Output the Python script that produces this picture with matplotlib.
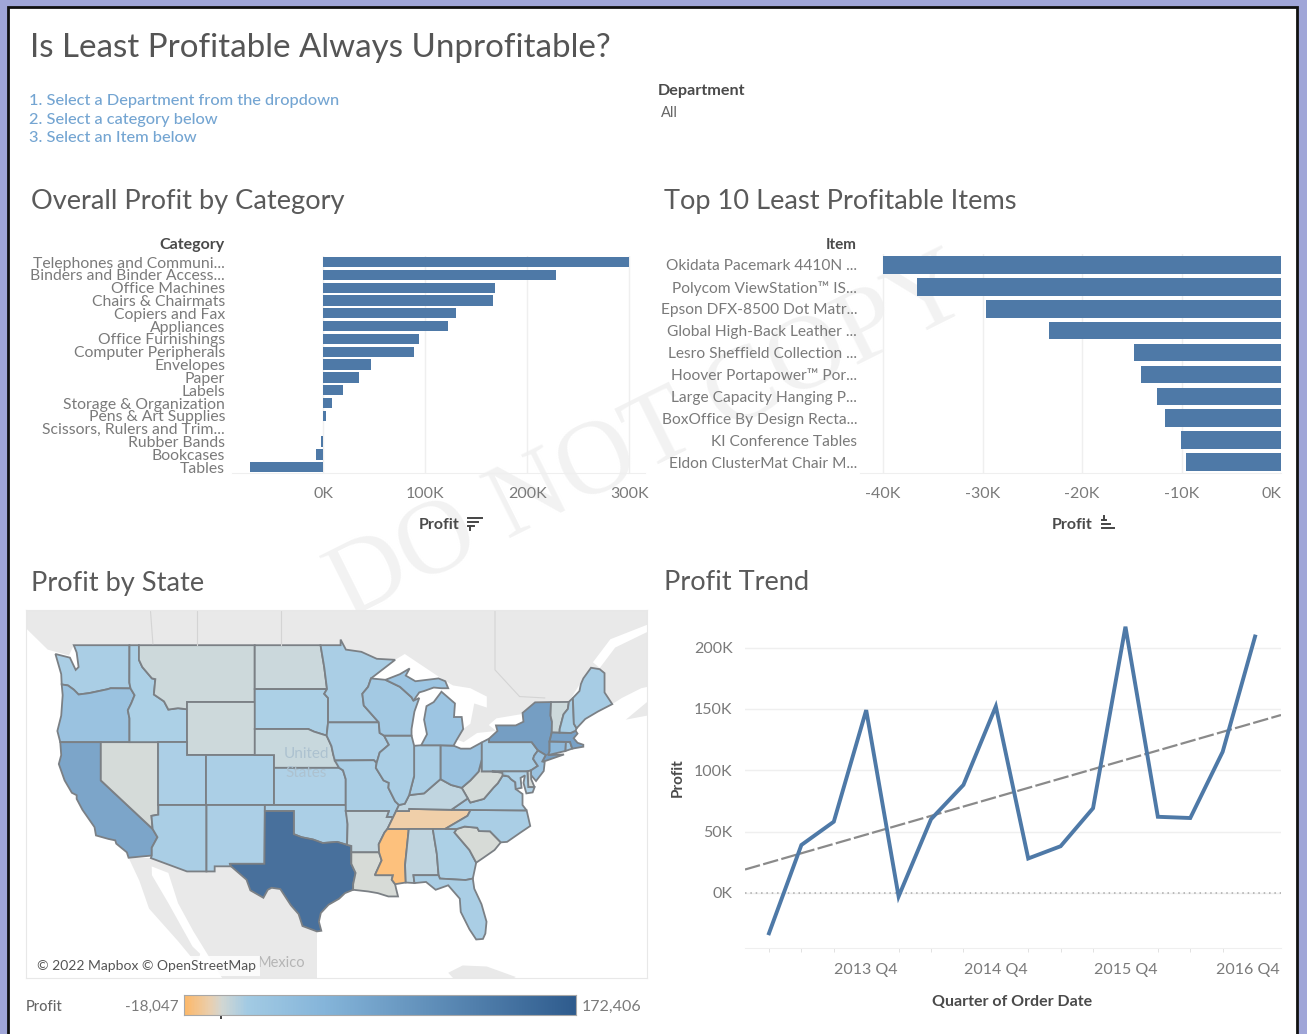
import numpy as np
import matplotlib
matplotlib.use("Agg")
import matplotlib.pyplot as plt
from matplotlib.colors import LinearSegmentedColormap, Normalize
from matplotlib.patches import Polygon, Rectangle
from matplotlib.transforms import ScaledTranslation

plt.rcParams['font.family'] = ['Lato', 'DejaVu Sans']

W, H = 1307, 1034
BLUE = "#4e79a7"
GREY_TXT = "#7a7a7a"
DARK_TXT = "#4a4a4a"
GRID = "#efefef"
LAND = "#e9e9e9"

# bar chart, left
categories = ["Telephones and Communi...", "Binders and Binder Access...", "Office Machines",
              "Chairs & Chairmats", "Copiers and Fax", "Appliances", "Office Furnishings",
              "Computer Peripherals", "Envelopes", "Paper", "Labels", "Storage & Organization",
              "Pens & Art Supplies", "Scissors, Rulers and Trim...", "Rubber Bands", "Bookcases", "Tables"]
category_profit = [300, 228, 168, 166, 130, 122, 93.5, 89, 47, 35, 19.5, 8.5, 2, -0.5, -2.5, -7.5, -72]

# bar chart, right
items = ["Okidata Pacemark 4410N ...", "Polycom ViewStation\u2122 IS...", "Epson DFX-8500 Dot Matr...",
         "Global High-Back Leather ...", "Lesro Sheffield Collection ...", "Hoover Portapower\u2122 Por...",
         "Large Capacity Hanging P...", "BoxOffice By Design Recta...", "KI Conference Tables",
         "Eldon ClusterMat Chair M..."]
item_profit = [-40, -36.6, -29.6, -23.3, -14.8, -14.1, -12.5, -11.7, -10.1, -9.5]

# trend line
quarter_ticks = [3, 7, 11, 15]
quarter_labels = ["2013 Q4", "2014 Q4", "2015 Q4", "2016 Q4"]
trend_profit = [-33, 39, 58, 149, -3, 60, 88, 152, 28, 38, 69, 217, 62, 61, 115, 209]
fit_x = [-0.74, 15.8]
fit_y = [19, 145]

# profit per state (thousands)
state_profit = {
    "WA": 18, "OR": 42, "CA": 88, "NV": 1, "ID": 14, "MT": 3, "WY": 3, "UT": 15, "CO": 16, "AZ": 18,
    "NM": 15, "ND": 4, "SD": 14, "NE": 5, "KS": 12, "OK": 16, "TX": 172.4, "MN": 18, "IA": 15, "MO": 18,
    "AR": 6, "LA": 0, "MS": -18, "TN": -9, "AL": 7, "GA": 14, "FL": 18, "SC": 0.5, "NC": 18, "VA": 18,
    "WV": 1, "KY": 7, "OH": 42, "IN": 18, "IL": 18, "WI": 28, "MI": 36, "MI_UP": 36, "PA": 22, "NY": 100,
    "NJ": 42, "DE": 1, "MD": 12, "CT": 60, "RI": 30, "MA": 95, "VT": 3, "NH": 18, "ME": 22,
}

# simplified state outlines, lon/lat
state_shapes = {
    "WA": [(-124.7,48.4),(-123.2,48.15),(-122.6,47.3),(-122.3,47.5),(-122.5,48.5),(-122.8,49),(-117.03,49),(-117.04,46.4),(-116.92,45.99),(-118.98,46),(-119.3,45.93),(-121.2,45.65),(-122.3,45.55),(-122.8,45.9),(-123.4,46.2),(-124.05,46.27),(-124.1,47)],
    "OR": [(-124.05,46.27),(-123.4,46.2),(-122.8,45.9),(-122.3,45.55),(-121.2,45.65),(-119.3,45.93),(-118.98,46),(-116.92,45.99),(-116.5,45.5),(-116.85,44.9),(-117.2,44.4),(-117.03,43.8),(-117.03,42),(-124.2,42),(-124.5,42.85),(-124.1,44),(-123.95,45.5)],
    "CA": [(-124.2,42),(-120,42),(-120,39),(-114.63,35),(-114.13,34.3),(-114.72,33.4),(-114.72,32.72),(-117.12,32.53),(-117.3,33),(-118.4,33.75),(-118.5,34.03),(-119.2,34.15),(-120.5,34.45),(-120.65,35.15),(-121.9,36.6),(-122.5,37.5),(-122.5,37.8),(-123,38),(-123.75,39),(-124.35,40.3),(-124.1,41)],
    "NV": [(-120,42),(-114.04,42),(-114.04,36.2),(-114.75,36.1),(-114.63,35),(-120,39)],
    "ID": [(-117.03,49),(-116.05,49),(-116.05,48),(-115.7,47.5),(-114.7,46.7),(-114.35,46.65),(-114.5,45.55),(-113.45,45.05),(-113,44.45),(-112,44.55),(-111.05,44.47),(-111.05,42),(-117.03,42),(-117.03,43.8),(-117.2,44.4),(-116.85,44.9),(-116.5,45.5),(-116.92,45.99),(-117.04,46.4)],
    "MT": [(-116.05,49),(-104.05,49),(-104.05,45),(-111.05,45),(-111.05,44.47),(-112,44.55),(-113,44.45),(-113.45,45.05),(-114.5,45.55),(-114.35,46.65),(-114.7,46.7),(-115.7,47.5),(-116.05,48)],
    "WY": [(-111.05,45),(-104.05,45),(-104.05,41),(-111.05,41)],
    "UT": [(-114.04,42),(-111.05,42),(-111.05,41),(-109.05,41),(-109.05,37),(-114.04,37)],
    "CO": [(-109.05,41),(-102.05,41),(-102.05,37),(-109.05,37)],
    "AZ": [(-114.04,37),(-109.05,37),(-109.05,31.33),(-111.07,31.33),(-114.81,32.5),(-114.72,32.72),(-114.72,33.4),(-114.13,34.3),(-114.63,35),(-114.75,36.1),(-114.04,36.2)],
    "NM": [(-109.05,37),(-103,37),(-103.04,32),(-106.62,32),(-106.53,31.78),(-108.2,31.78),(-108.2,31.33),(-109.05,31.33)],
    "ND": [(-104.05,49),(-97.23,49),(-96.85,47.5),(-96.56,45.94),(-104.05,45.94)],
    "SD": [(-104.05,45.94),(-96.56,45.94),(-96.85,45.6),(-96.45,45.3),(-96.45,43.5),(-96.6,42.5),(-97.9,42.8),(-98.5,43),(-104.05,43)],
    "NE": [(-104.05,43),(-98.5,43),(-97.9,42.8),(-96.6,42.5),(-96.1,41.7),(-95.9,41),(-95.31,40),(-102.05,40),(-102.05,41),(-104.05,41)],
    "KS": [(-102.05,40),(-95.31,40),(-94.9,39.8),(-94.62,39.1),(-94.62,37),(-102.05,37)],
    "OK": [(-103,37),(-94.62,37),(-94.43,35.4),(-94.48,33.64),(-95.5,33.9),(-97,33.8),(-98,34.1),(-99.2,34.3),(-100,34.56),(-100,36.5),(-103,36.5)],
    "TX": [(-106.62,32),(-103.04,32),(-103,36.5),(-100,36.5),(-100,34.56),(-99.2,34.3),(-98,34.1),(-97,33.8),(-95.5,33.9),(-94.48,33.64),(-94.04,33.55),(-94.04,32),(-93.6,31.2),(-93.85,30.2),(-93.85,29.7),(-94.7,29.4),(-95.3,28.9),(-96.4,28.35),(-97.2,27.6),(-97.4,26.8),(-97.15,25.96),(-97.6,25.9),(-99.1,26.4),(-99.5,27.5),(-100.3,28.3),(-101.4,29.77),(-102.3,29.88),(-102.7,29.7),(-103.15,28.98),(-104.5,29.65),(-104.9,30.6),(-106.5,31.78)],
    "MN": [(-97.23,49),(-95.15,49),(-95.15,49.38),(-94.6,48.7),(-93,48.55),(-91.4,48.07),(-89.5,48),(-92,46.7),(-92.3,46.1),(-92.9,45.6),(-92.75,44.75),(-91.2,43.5),(-96.45,43.5),(-96.45,45.3),(-96.85,45.6),(-96.56,45.94),(-96.85,47.5)],
    "IA": [(-96.45,43.5),(-91.2,43.5),(-91.1,42.7),(-90.65,42.5),(-90.15,41.8),(-91.1,41.2),(-91.42,40.38),(-91.7,40.6),(-95.77,40.58),(-95.9,41),(-96.1,41.7),(-96.6,42.5)],
    "MO": [(-95.77,40.58),(-91.7,40.6),(-91.42,40.38),(-91.5,40),(-90.7,39),(-90.15,38.8),(-90.2,38.4),(-89.5,37.3),(-89.1,37),(-89.4,36.5),(-89.7,36),(-90.37,36),(-90.15,36.5),(-94.62,36.5),(-94.62,39.1),(-94.9,39.8),(-95.31,40)],
    "AR": [(-94.62,36.5),(-90.15,36.5),(-90.37,36),(-89.7,36),(-90.3,35),(-90.6,34.7),(-91.2,33.7),(-91.17,33),(-94.04,33),(-94.04,33.55),(-94.48,33.64),(-94.43,35.4)],
    "LA": [(-94.04,33),(-91.17,33),(-90.9,32.3),(-91.6,31),(-89.73,31),(-89.85,30.6),(-89.5,30.2),(-89.4,29.8),(-89.2,29.1),(-90.2,29.1),(-91.3,29.4),(-92.3,29.55),(-93.85,29.7),(-93.85,30.2),(-93.6,31.2),(-94.04,32)],
    "MS": [(-91.17,33),(-91.2,33.7),(-90.6,34.7),(-90.3,35),(-88.2,35),(-88.1,34.9),(-88.47,31.9),(-88.4,30.35),(-89.5,30.2),(-89.85,30.6),(-89.73,31),(-91.6,31),(-90.9,32.3)],
    "TN": [(-90.3,35),(-89.7,36),(-89.4,36.5),(-88.07,36.5),(-88.05,36.68),(-83.68,36.6),(-81.68,36.59),(-82,36.1),(-84.32,35),(-88.2,35)],
    "AL": [(-88.2,35),(-85.6,35),(-85.18,32.87),(-85,31),(-87.6,31),(-87.5,30.3),(-88.4,30.35),(-88.47,31.9),(-88.1,34.9)],
    "GA": [(-85.6,35),(-83.1,35),(-83.35,34.7),(-81.8,33.2),(-81.1,32.1),(-81.45,30.7),(-82.2,30.57),(-84.86,30.7),(-85,31),(-85.18,32.87)],
    "FL": [(-87.6,31),(-85,31),(-84.86,30.7),(-82.2,30.57),(-81.45,30.7),(-81.3,29.8),(-80.55,28.4),(-80.03,26.8),(-80.15,25.7),(-80.4,25.2),(-81.1,25.15),(-81.8,26.1),(-82.7,27.7),(-82.8,28.9),(-83.6,29.7),(-84,30.1),(-85.3,29.7),(-86.3,30.4),(-87.5,30.3)],
    "SC": [(-83.35,34.7),(-83.1,35),(-82.3,35.2),(-81,35.1),(-80.8,34.82),(-79.67,34.8),(-78.55,33.86),(-79.2,33.2),(-80.4,32.5),(-81.1,32.1),(-81.8,33.2)],
    "NC": [(-84.32,35),(-82,36.1),(-81.68,36.59),(-75.87,36.55),(-75.5,35.25),(-76.5,34.7),(-77.9,33.9),(-78.55,33.86),(-79.67,34.8),(-80.8,34.82),(-81,35.1),(-82.3,35.2),(-83.1,35)],
    "VA": [(-83.68,36.6),(-81.68,36.59),(-75.87,36.55),(-76.3,37),(-76.3,37.9),(-77,38.3),(-77.05,38.85),(-77.5,39.1),(-77.75,39.32),(-78.35,39.4),(-78.87,38.76),(-79.3,38.42),(-80.3,37.5),(-81.7,37.2),(-81.97,37.54)],
    "WV": [(-81.97,37.54),(-81.7,37.2),(-80.3,37.5),(-79.3,38.42),(-78.87,38.76),(-78.35,39.4),(-77.75,39.32),(-78.4,39.62),(-79.48,39.72),(-80.52,39.72),(-80.52,40.64),(-80.85,39.7),(-81.7,39),(-82.6,38.4)],
    "KY": [(-89.1,37),(-89.4,36.5),(-88.07,36.5),(-88.05,36.68),(-83.68,36.6),(-81.97,37.54),(-82.6,38.4),(-83.7,38.63),(-84.8,39.1),(-85.4,38.7),(-86.5,37.95),(-87.6,37.85),(-88.05,37.8),(-88.5,37.1)],
    "OH": [(-84.8,41.76),(-83.45,41.73),(-82.7,41.5),(-81.7,41.5),(-80.52,41.98),(-80.52,40.64),(-80.85,39.7),(-81.7,39),(-82.6,38.4),(-83.7,38.63),(-84.8,39.1)],
    "IN": [(-87.53,41.72),(-86.8,41.76),(-84.8,41.76),(-84.8,39.1),(-85.4,38.7),(-86.5,37.95),(-87.6,37.85),(-88.05,37.8),(-87.53,39.35)],
    "IL": [(-90.65,42.5),(-87.8,42.5),(-87.53,41.72),(-87.53,39.35),(-88.05,37.8),(-88.5,37.1),(-89.1,37),(-89.5,37.3),(-90.2,38.4),(-90.15,38.8),(-90.7,39),(-91.5,40),(-91.42,40.38),(-91.1,41.2),(-90.15,41.8)],
    "WI": [(-92,46.7),(-90.5,46.6),(-89,46.1),(-87.8,45.35),(-87.6,45.1),(-87,45.3),(-87.5,44.3),(-87.8,43),(-87.8,42.5),(-90.65,42.5),(-91.1,42.7),(-91.2,43.5),(-92.75,44.75),(-92.9,45.6),(-92.3,46.1)],
    "MI": [(-86.8,41.76),(-84.8,41.76),(-83.45,41.73),(-83.1,42.2),(-82.45,43),(-82.6,43.9),(-83.4,43.9),(-83.3,44.9),(-84.7,45.75),(-85.5,45),(-86.25,44.7),(-86.5,43.7),(-86.2,42.6)],
    "MI_UP": [(-90.5,46.6),(-89,47),(-88,47.4),(-88.4,46.9),(-87.4,46.5),(-85,46.7),(-84.3,46.5),(-84,46),(-84.7,46),(-85.5,46.05),(-86.5,45.8),(-87,45.7),(-87.6,45.1),(-87.8,45.35),(-89,46.1)],
    "PA": [(-80.52,41.98),(-79.76,42.27),(-79.76,42),(-75.35,42),(-74.7,41.36),(-75.1,40.95),(-75.2,40.7),(-74.72,40.15),(-75.42,39.8),(-75.79,39.72),(-80.52,39.72)],
    "NY": [(-79.76,42),(-79.76,42.27),(-78.9,42.85),(-79.05,43.27),(-77,43.27),(-76.2,43.55),(-76.3,44.2),(-75,44.98),(-73.35,45),(-73.4,44),(-73.25,43.55),(-73.27,42.75),(-73.5,42.05),(-73.5,41.3),(-73.65,41),(-72,41.05),(-73.9,40.55),(-74.25,40.5),(-73.9,41),(-74.7,41.36),(-75.35,42)],
    "NJ": [(-74.7,41.36),(-73.9,41),(-74.25,40.5),(-74,40.45),(-74.1,39.75),(-74.9,38.95),(-75.5,39.5),(-75.42,39.8),(-74.72,40.15),(-75.2,40.7),(-75.1,40.95)],
    "DE": [(-75.79,39.72),(-75.42,39.8),(-75.4,39.1),(-75.05,38.45),(-75.7,38.46)],
    "MD": [(-79.48,39.72),(-75.79,39.72),(-75.7,38.46),(-75.05,38.45),(-75.25,38.03),(-75.9,37.95),(-76.2,38.8),(-76.05,39.4),(-76.5,39.2),(-76.4,38.4),(-77,38.3),(-77.05,38.85),(-77.5,39.1),(-77.75,39.32),(-78.35,39.4),(-78.4,39.62)],
    "CT": [(-73.5,42.05),(-71.8,42.02),(-71.85,41.32),(-73.65,41),(-73.5,41.3)],
    "RI": [(-71.8,42.02),(-71.38,42.02),(-71.15,41.5),(-71.85,41.32)],
    "MA": [(-73.27,42.75),(-71.3,42.7),(-70.8,42.87),(-70.6,42.65),(-71,42.3),(-70.6,41.95),(-70,41.8),(-70,41.65),(-71.15,41.5),(-71.38,42.02),(-71.8,42.02),(-73.5,42.05)],
    "VT": [(-73.35,45),(-71.5,45.01),(-71.6,44.5),(-72.05,44.1),(-72.45,43),(-72.46,42.73),(-73.27,42.75),(-73.25,43.55),(-73.4,44)],
    "NH": [(-71.5,45.01),(-71.08,45.3),(-70.98,43.4),(-70.7,43.05),(-70.8,42.87),(-71.3,42.7),(-72.46,42.73),(-72.45,43),(-72.05,44.1),(-71.6,44.5)],
    "ME": [(-71.08,45.3),(-70.4,45.8),(-70.25,46.3),(-70,46.7),(-69.2,47.45),(-68.3,47.35),(-67.8,47.07),(-67.8,45.7),(-67,44.85),(-68.5,44.3),(-69.8,43.75),(-70.7,43.05),(-70.98,43.4)],
}

# neighbouring land on the base map
land_shapes = [
    [(-128.5,50.6),(-125.5,48.7),(-123.3,48.3),(-122.8,49),(-95.15,49),(-95.15,49.38),(-94.6,48.7),(-93,48.55),(-91.4,48.07),(-89.5,48),(-88.5,48.4),(-84.5,46.6),(-83.5,46.2),(-81.7,46),(-80,45.4),(-80,44.6),(-81.3,44.9),(-81.7,43.4),(-82.45,43),(-83.1,42.2),(-82.4,42),(-81,42.7),(-79,42.85),(-79.8,43.3),(-79,43.8),(-76.5,44.1),(-75,44.98),(-71.5,45.01),(-70,46.7),(-69.2,47.45),(-67.8,47.07),(-67.8,45.7),(-67,44.85),(-66,45.3),(-64,46),(-62,46.3),(-62,62),(-128.5,62)],
    [(-117.12,32.53),(-114.75,32.5),(-114.7,31),(-113,28.5),(-110.5,24.5),(-109.7,23.8),(-110,22.8),(-112,25),(-115,28),(-116,30.5)],
    [(-114.81,32.5),(-111.07,31.33),(-108.2,31.33),(-108.2,31.78),(-106.5,31.78),(-104.9,30.6),(-104.5,29.65),(-103.15,28.98),(-102.7,29.7),(-102.3,29.88),(-101.4,29.77),(-100.3,28.3),(-99.5,27.5),(-99.1,26.4),(-97.6,25.9),(-97.6,21),(-107.3,21.3),(-110.4,25.9),(-112,28.5),(-113,31.2),(-114.81,31.8)],
    [(-84,22),(-82.5,22.7),(-80,22.6),(-77,21.6),(-78,21),(-83,21)],
    [(-65.6,43.7),(-63.4,45),(-63.4,44)],
]
# gulf of St Lawrence
water_shapes = [[(-69,47.83),(-67.2,49.4),(-63.4,50.36),(-63.4,49.88),(-66.7,48.84),(-68.3,47.43)]]
# faint province lines
land_borders = [
    [(-116,60),(-114.6,49.1)],
    [(-110,60),(-110,49)],
    [(-101.3,60),(-101.3,49)],
    [(-79.15,60),(-79.15,47.3),(-76.6,45.4),(-74,45.3)],
]

# colour legend
legend_min, legend_max = -18.047, 172.406
color_stops = [(-18.047, "#fdb96b"), (-6, "#eacfae"), (0, "#d2d7d3"), (12, "#a3cbe4"), (50, "#85b5da"), (172.406, "#2f5c8e")]


def add_ax(x0, y0, x1, y1):
    # pixel box to figure axes, y counted from the top
    a = fig.add_axes([x0 / W, 1 - y1 / H, (x1 - x0) / W, (y1 - y0) / H])
    a.patch.set_alpha(0)
    return a


def merc(lat):
    return np.degrees(np.log(np.tan(np.pi / 4 + np.radians(lat) / 2)))


def k_label(v, pos=None):
    return f"{v:.0f}K"


def style_axes(a):
    for s in a.spines.values():
        s.set_visible(False)
    a.tick_params(length=0, labelcolor=GREY_TXT)


fig = plt.figure(figsize=(W / 100, H / 100), dpi=100, facecolor="#a0a6d8")

# page layer in pixel coordinates
page = fig.add_axes([0, 0, 1, 1], zorder=-1)
page.set_xlim(0, W)
page.set_ylim(H, 0)
page.axis("off")
page.add_patch(Rectangle((8, 7), 1289, 1040, facecolor="white", edgecolor="#111111", lw=2))

page.text(30, 48, "Is Least Profitable Always Unprofitable?", fontsize=23.9, color="#555555", va="center")
for y, line in zip([101, 120, 138], ["1. Select a Department from the dropdown", "2. Select a category below", "3. Select an Item below"]):
    page.text(29, y, line, fontsize=11.8, color="#74a5d2", va="center", fontweight="medium")
page.text(658, 91, "Department", fontsize=11.6, color=DARK_TXT, va="center", fontweight="bold")
page.text(661, 113, "All", fontsize=10.5, color="#666666", va="center")

for x, y, t in [(31, 202, "Overall Profit by Category"), (664, 202, "Top 10 Least Profitable Items"),
                (31, 583, "Profit by State"), (664, 583, "Profit Trend")]:
    page.text(x, y, t, fontsize=19.6, color="#5a5a5a", va="center")

page.text(650, 440, "DO NOT COPY", fontsize=76, family="Liberation Serif", color="#f2f2f2",
          rotation=26.5, ha="center", va="center", rotation_mode="anchor")

page.text(225, 245, "Category", fontsize=11.5, color=DARK_TXT, ha="right", va="center", fontweight="bold")
page.text(857, 245, "Item", fontsize=11, color=DARK_TXT, ha="right", va="center", fontweight="bold")
page.text(439, 525, "Profit", fontsize=11.5, color=DARK_TXT, ha="center", va="center", fontweight="bold")
page.text(1072, 525, "Profit", fontsize=11.5, color=DARK_TXT, ha="center", va="center", fontweight="bold")
# sort icons
for y, x1 in [(518, 482), (522, 478), (526, 474)]:
    page.plot([468, x1], [y, y], color="#444444", lw=1.4)
page.plot([470, 470], [526, 530], color="#444444", lw=1.4)
for y, x1 in [(520, 1106), (524, 1110), (528, 1114)]:
    page.plot([1102, x1], [y, y], color="#444444", lw=1.4)
page.plot([1104, 1104], [516, 520], color="#444444", lw=1.4)

# overall profit by category
ax1 = add_ax(232, 256, 645, 473)
y_pos = np.arange(len(categories))
ax1.barh(y_pos, category_profit, height=0.8, color=BLUE, zorder=3)
ax1.set_xlim(-89.7, 315.2)
ax1.set_ylim(16.45, -0.47)
ax1.set_yticks(y_pos, categories, fontsize=11.3)
ax1.set_xticks([0, 100, 200, 300], [k_label(v) for v in [0, 100, 200, 300]], fontsize=11.5)
style_axes(ax1)
ax1.tick_params(axis="y", pad=5)
ax1.tick_params(axis="x", pad=10)
ax1.xaxis.grid(True, color=GRID, lw=1)
ax1.set_axisbelow(True)
ax1.spines["bottom"].set_visible(True)
ax1.spines["bottom"].set_color(GRID)

# top 10 least profitable
ax2 = add_ax(860, 254, 1281, 473)
y_pos2 = np.arange(len(items))
ax2.barh(y_pos2, item_profit, height=0.8, color=BLUE, zorder=3)
ax2.set_xlim(-40 - 23 / 9.95, 0)
ax2.set_ylim(9.5, -0.5)
ax2.set_yticks(y_pos2, items, fontsize=11.2)
ticks2 = [-40, -30, -20, -10, 0]
ax2.set_xticks(ticks2, [k_label(v) for v in ticks2], fontsize=11.5)
style_axes(ax2)
ax2.tick_params(axis="y", pad=2)
ax2.tick_params(axis="x", pad=10)
ax2.get_xticklabels()[-1].set_ha("right")
ax2.xaxis.grid(True, color=GRID, lw=1)
ax2.set_axisbelow(True)
ax2.spines["bottom"].set_visible(True)
ax2.spines["bottom"].set_color(GRID)

# map
stops = [(v - legend_min) / (legend_max - legend_min) for v, c in color_stops]
cmap = LinearSegmentedColormap.from_list("profit", list(zip(stops, [c for v, c in color_stops])))
norm = Normalize(legend_min, legend_max)

ax3 = add_ax(26, 610, 647, 978)
ax3.set_xlim(-127.75, -63.4)
ax3.set_ylim(merc(21.5), 60.0)
ax3.set_xticks([])
ax3.set_yticks([])
for s in ax3.spines.values():
    s.set_color("#e8e8e8")
for shape in land_shapes:
    pts = np.array(shape)
    ax3.add_patch(Polygon(np.c_[pts[:, 0], merc(pts[:, 1])], facecolor=LAND, edgecolor="none"))
for shape in water_shapes:
    pts = np.array(shape)
    ax3.add_patch(Polygon(np.c_[pts[:, 0], merc(pts[:, 1])], facecolor="white", edgecolor="none"))
for line in land_borders:
    pts = np.array(line)
    ax3.plot(pts[:, 0], merc(pts[:, 1]), color="#d4d4d4", lw=0.8)
for name, shape in state_shapes.items():
    pts = np.array(shape)
    fill = cmap(norm(state_profit[name]), alpha=0.88)
    ax3.add_patch(Polygon(np.c_[pts[:, 0], merc(pts[:, 1])], facecolor=fill, edgecolor="#7b8085", lw=1.3))
ax3.set_xlim(-127.75, -63.4)
ax3.set_ylim(merc(21.5), 60.0)
ax3.text(-98.7, merc(41.1), "United", fontsize=11, color="#adc2d0", ha="center", va="center")
ax3.text(-98.7, merc(39.57), "States", fontsize=11, color="#adc2d0", ha="center", va="center")
ax3.text(-101.3, merc(22.9), "Mexico", fontsize=10.5, color="#b5b5b5", ha="center", va="center")
ax3.text(0.017, 0.033, "\u00a9 2022 Mapbox \u00a9 OpenStreetMap", transform=ax3.transAxes, fontsize=10, color="#555555",
         va="center", bbox=dict(facecolor="white", alpha=0.85, edgecolor="none", pad=3))

# legend
page.text(26, 1007, "Profit", fontsize=10.5, color="#666666", va="center", fontweight="medium")
page.text(179, 1007, "-18,047", fontsize=11, color=GREY_TXT, ha="right", va="center")
page.text(582, 1007, "172,406", fontsize=11.5, color=GREY_TXT, va="center")
ax4 = add_ax(184, 995, 576, 1015)
ax4.imshow(np.linspace(legend_min, legend_max, 400)[None, :], cmap=cmap, norm=norm, aspect="auto",
           extent=[legend_min, legend_max, 0, 1])
ax4.set_yticks([])
ax4.set_xticks([0], [""])
ax4.tick_params(axis="x", length=3, width=1.2, color="#222222", pad=0)
for s in ax4.spines.values():
    s.set_color("#a8a8a8")

# profit trend
ax5 = add_ax(745, 612, 1281, 948)
q = np.arange(len(trend_profit))
ax5.plot(fit_x, fit_y, color="#8a8a8a", lw=1.6, ls=(0, (7, 1.5)), zorder=3)
ax5.plot(q, trend_profit, color=BLUE, lw=2.8, zorder=4, solid_joinstyle="miter")
ax5.axhline(0, color="#aaaaaa", lw=1.1, ls=(0, (1, 2.5)), zorder=2)
ax5.set_xlim(-0.74, 15.8)
ax5.set_ylim(-45, 229)
ticks5 = [0, 50, 100, 150, 200]
ax5.set_yticks(ticks5, [k_label(v) for v in ticks5], fontsize=11.5)
ax5.set_xticks(quarter_ticks, quarter_labels, fontsize=11.5)
ax5.set_xticks(q, minor=True)
style_axes(ax5)
ax5.yaxis.grid(True, color=GRID, lw=1)
ax5.tick_params(axis="y", pad=9)
ax5.tick_params(axis="x", which="major", pad=11)
ax5.tick_params(axis="x", which="minor", length=3, color="#dddddd")
ax5.spines["bottom"].set_visible(True)
ax5.spines["bottom"].set_color(GRID)
lab = ax5.get_xticklabels()[-1]
lab.set_transform(lab.get_transform() + ScaledTranslation(-7 / 100, 0, fig.dpi_scale_trans))
page.text(678, 778, "Profit", fontsize=11, color=DARK_TXT, rotation=90, ha="center", va="center", fontweight="bold")
page.text(1012, 1002, "Quarter of Order Date", fontsize=11.5, color=DARK_TXT, ha="center", va="center", fontweight="bold")

fig.savefig("out.png", dpi=100, facecolor=fig.get_facecolor())
